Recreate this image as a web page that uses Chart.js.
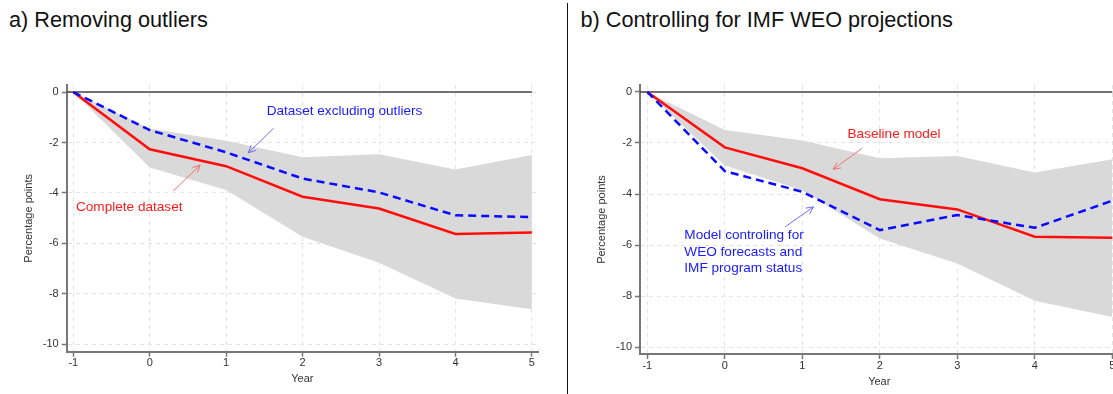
<!DOCTYPE html>
<html>
<head>
<meta charset="utf-8">
<script src="https://cdn.jsdelivr.net/npm/chart.js@4.4.1/dist/chart.umd.min.js"></script>
<style>
    html, body { margin: 0; padding: 0; background: #fff; }
    #wrap { position: relative; width: 1113px; height: 394px; overflow: hidden; font-family: 'Liberation Sans', Arial, sans-serif; }
    .title { position: absolute; top: 9px; font-size: 21.7px; line-height: 1; color: #111; white-space: nowrap; }
    #divider { position: absolute; left: 566.5px; top: 3px; width: 1.5px; height: 391px; background: #111; }
    .panel { position: absolute; top: 60px; }
</style>
</head>
<body>
<div id="wrap">
    <div class="title" style="left:9px">a) Removing outliers</div>
    <div class="title" style="left:580.5px">b) Controlling for IMF WEO projections</div>
    <div id="divider"></div>
    <div class="panel" style="left:0"><canvas id="chartA" width="560" height="334"></canvas></div>
    <div class="panel" style="left:570px"><canvas id="chartB" width="560" height="334"></canvas></div>
</div>
<script>
// Axis ticks
const years = [-1, 0, 1, 2, 3, 4, 5];
const yTicks = [0, -2, -4, -6, -8, -10];

// Panel a) Removing outliers
const aComplete = [0, -2.27, -2.94, -4.15, -4.62, -5.63, -5.57];
const aExcluding = [0, -1.51, -2.39, -3.43, -3.98, -4.89, -4.96];
const aBandUpper = [0, -1.45, -1.93, -2.59, -2.47, -3.07, -2.50];
const aBandLower = [0, -2.99, -3.89, -5.74, -6.77, -8.19, -8.62];

// Panel b) Controlling for IMF WEO projections
const bBaseline = [0, -2.17, -2.99, -4.20, -4.60, -5.67, -5.71];
const bWeo = [0, -3.10, -3.91, -5.41, -4.82, -5.32, -4.26];
const bBandUpper = [0, -1.49, -1.90, -2.60, -2.51, -3.16, -2.64];
const bBandLower = [0, -2.88, -3.85, -5.74, -6.72, -8.18, -8.81];

const FONT = "'Liberation Sans', Arial, sans-serif";
Chart.defaults.font.family = FONT;

// Solid reference line at zero
const zeroLine = {
    id: 'zeroLine',
    beforeDatasetsDraw(chart) {
        const { ctx, chartArea, scales: { x, y } } = chart;
        const py = y.getPixelForValue(0);
        ctx.save();
        ctx.strokeStyle = '#444';
        ctx.lineWidth = 1.5;
        ctx.beginPath();
        ctx.moveTo(chartArea.left, py);
        ctx.lineTo(x.getPixelForValue(5), py);
        ctx.stroke();
        ctx.restore();
    }
};

// Text labels and arrows placed in data coordinates
function notesPlugin(notes) {
    return {
        id: 'notes',
        afterDatasetsDraw(chart) {
            const { ctx, scales: { x, y } } = chart;
            ctx.save();
            ctx.font = '13.6px ' + FONT;
            ctx.textBaseline = 'middle';
            notes.texts.forEach(t => {
                ctx.fillStyle = t.color;
                t.lines.forEach((line, i) => {
                    ctx.fillText(line, x.getPixelForValue(t.x), y.getPixelForValue(t.y) + i * 16.7);
                });
            });
            notes.arrows.forEach(a => {
                const x1 = x.getPixelForValue(a.from[0]), y1 = y.getPixelForValue(a.from[1]);
                const x2 = x.getPixelForValue(a.to[0]), y2 = y.getPixelForValue(a.to[1]);
                const ang = Math.atan2(y2 - y1, x2 - x1);
                ctx.strokeStyle = a.color;
                ctx.lineWidth = 1;
                ctx.beginPath();
                ctx.moveTo(x1, y1);
                ctx.lineTo(x2, y2);
                ctx.moveTo(x2 - 8 * Math.cos(ang - 0.45), y2 - 8 * Math.sin(ang - 0.45));
                ctx.lineTo(x2, y2);
                ctx.lineTo(x2 - 8 * Math.cos(ang + 0.45), y2 - 8 * Math.sin(ang + 0.45));
                ctx.stroke();
            });
            ctx.restore();
        }
    };
}

function buildChart(canvasId, p) {
    const pts = arr => years.map((x, i) => ({ x: x, y: arr[i] }));
    return new Chart(document.getElementById(canvasId), {
        type: 'line',
        data: {
            datasets: [
                { data: pts(p.upper), borderColor: 'rgba(0,0,0,0)', borderWidth: 0, pointRadius: 0, fill: false, order: 3 },
                { data: pts(p.lower), borderColor: 'rgba(0,0,0,0)', borderWidth: 0, pointRadius: 0, fill: '-1', backgroundColor: '#d9d9d9', order: 2 },
                { data: pts(p.solid), borderColor: '#ff0d0d', borderWidth: 2.5, pointRadius: 0, fill: false, tension: 0, order: 1 },
                { data: pts(p.dashed), borderColor: '#0a0aff', borderWidth: 2.5, borderDash: [8, 5], pointRadius: 0, fill: false, tension: 0, order: 0 }
            ]
        },
        options: {
            responsive: false,
            animation: false,
            layout: { padding: { top: 25, right: p.padRight, left: 0, bottom: 0 } },
            plugins: {
                legend: { display: false },
                tooltip: { enabled: false }
            },
            scales: {
                x: {
                    type: 'linear',
                    min: p.xMin,
                    max: p.xMax,
                    afterBuildTicks: s => { s.ticks = years.map(v => ({ value: v })); },
                    afterFit: s => { s.height = p.xAxisH; },
                    grid: { color: '#e4e4e4', lineWidth: 1, tickLength: 5, tickColor: '#777', tickWidth: 1.5 },
                    border: { color: '#777', width: 2, dash: [4, 4] },
                    ticks: { color: '#333', font: { size: 11 }, padding: 0, maxRotation: 0, callback: v => String(v) },
                    title: { display: true, text: 'Year', color: '#333', font: { size: 11 }, padding: { top: 0, bottom: p.xTitlePad } }
                },
                y: {
                    type: 'linear',
                    min: p.yMin,
                    max: p.yMax,
                    afterBuildTicks: s => { s.ticks = yTicks.map(v => ({ value: v })); },
                    afterFit: s => { s.width = p.yAxisW; },
                    grid: { color: '#e4e4e4', lineWidth: 1, tickLength: 5, tickColor: '#777', tickWidth: 1.5 },
                    border: { color: '#777', width: 2, dash: [4, 4] },
                    ticks: { color: '#333', font: { size: 11 }, padding: 3, callback: v => String(v) },
                    title: { display: true, text: 'Percentage points', color: '#333', font: { size: 11 }, padding: { top: p.yTitlePad, bottom: 0 } }
                }
            }
        },
        plugins: [zeroLine, notesPlugin(p.notes)]
    });
}

buildChart('chartA', {
    upper: aBandUpper, lower: aBandLower, solid: aComplete, dashed: aExcluding,
    xMin: -1.086, xMax: 5.08, yMin: -10.3, yMax: 0.28,
    yAxisW: 66.7, xAxisH: 42.3, padRight: 22, yTitlePad: 22, xTitlePad: 8.5,
    notes: {
        texts: [
            { lines: ['Dataset excluding outliers'], x: 1.53, y: -0.78, color: '#1a1aff' },
            { lines: ['Complete dataset'], x: -0.965, y: -4.55, color: '#ff1a1a' }
        ],
        arrows: [
            { from: [1.62, -1.44], to: [1.29, -2.41], color: '#6f6ff2' },
            { from: [0.31, -3.92], to: [0.66, -2.90], color: '#f07070' }
        ]
    }
});

buildChart('chartB', {
    upper: bBandUpper, lower: bBandLower, solid: bBaseline, dashed: bWeo,
    xMin: -1.094, xMax: 5.08, yMin: -10.26, yMax: 0.27,
    yAxisW: 70, xAxisH: 40, padRight: 11.5, yTitlePad: 25.7, xTitlePad: 5,
    notes: {
        texts: [
            { lines: ['Baseline model'], x: 1.584, y: -1.66, color: '#ff1a1a' },
            { lines: ['Model controling for', 'WEO forecasts and', 'IMF program status'], x: -0.522, y: -5.61, color: '#1a1aff' }
        ],
        arrows: [
            { from: [1.77, -2.21], to: [1.40, -3.03], color: '#f07070' },
            { from: [0.78, -5.28], to: [1.145, -4.50], color: '#6f6ff2' }
        ]
    }
});
</script>
</body>
</html>
